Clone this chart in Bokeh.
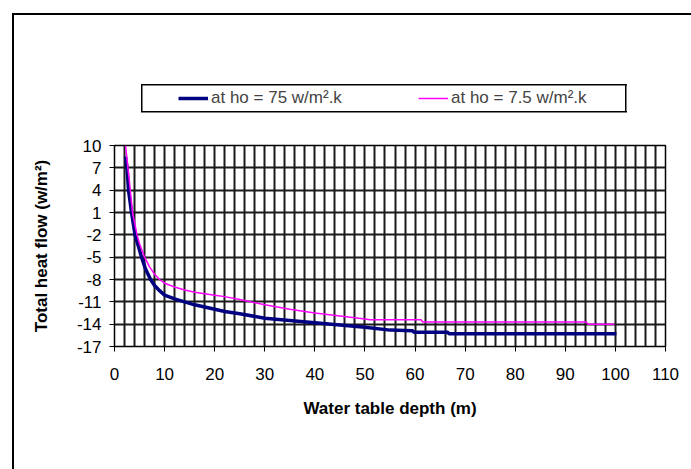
from bokeh.plotting import figure
from bokeh.layouts import column
from bokeh.models import (Range1d, FixedTicker, Legend, LegendItem, PrintfTickFormatter)
from bokeh.embed import file_html
from bokeh.resources import INLINE

# Data
depth_ho75 = [2.2, 2.5, 2.8, 3.4, 4.1, 5.4, 6.2, 7.2, 8, 9, 10, 12, 14, 16, 18, 20, 22, 25,
              30, 35, 40, 45, 50, 55, 59.5, 59.8, 66.5, 66.8, 100.2]
flow_ho75 = [8.5, 7, 4, 1, -2, -5, -6.6, -8, -8.8, -9.5, -10.1, -10.6, -11.0, -11.4, -11.7,
             -12.0, -12.3, -12.6, -13.2, -13.5, -13.8, -14.1, -14.4, -14.8, -14.9, -15.1,
             -15.1, -15.3, -15.3]

depth_ho7_5 = [2.2, 3, 3.6, 4.5, 5, 6, 7, 8, 9, 10, 12, 14, 16, 18, 20, 22, 25, 30, 35, 40,
               45, 50, 51, 61.2, 61.5, 94.2, 94.5, 99.8]
flow_ho7_5 = [10, 5, 1, -2, -3.2, -5, -6.3, -7.3, -8.0, -8.5, -9.0, -9.4, -9.7, -9.9, -10.1,
              -10.3, -10.7, -11.4, -12.0, -12.5, -12.9, -13.3, -13.4, -13.4, -13.7, -13.7,
              -14.0, -14.0]

x_ticks = [0, 10, 20, 30, 40, 50, 60, 70, 80, 90, 100, 110]
y_ticks = [-17, -14, -11, -8, -5, -2, 1, 4, 7, 10]
x_grid = list(range(0, 112, 2))

label_75 = "at ho = 75 w/m\u00b2.k"
label_7_5 = "at ho = 7.5 w/m\u00b2.k"

FONT = "Liberation Sans"
NAVY = "#000080"
PINK = "#FF00FF"

W = 691
TOP_H = 130
MAIN_H = 339

# ---- main chart ----
p = figure(width=W, height=MAIN_H, output_backend="svg", toolbar_location=None,
           x_range=Range1d(0, 110), y_range=Range1d(-17, 10),
           min_border_left=114, min_border_right=26, min_border_top=15,
           min_border_bottom=123)

p.background_fill_color = "white"
p.border_fill_color = None
p.outline_line_color = "black"
p.outline_line_width = 1.5

p.xaxis.ticker = FixedTicker(ticks=x_ticks)
p.yaxis.ticker = FixedTicker(ticks=y_ticks)
p.xaxis.formatter = PrintfTickFormatter(format="%d")
p.yaxis.formatter = PrintfTickFormatter(format="%d")
p.xgrid.ticker = FixedTicker(ticks=x_grid)
p.ygrid.ticker = FixedTicker(ticks=y_ticks)
for g in (p.xgrid, p.ygrid):
    g.grid_line_color = "#1a1a1a"
    g.grid_line_width = 2

for ax in (p.xaxis, p.yaxis):
    ax.axis_line_color = "black"
    ax.major_tick_line_color = "black"
    ax.major_tick_in = 0
    ax.major_tick_out = 5
    ax.minor_tick_line_color = None
    ax.major_label_text_font = FONT
    ax.major_label_text_font_size = "17px"
    ax.major_label_text_color = "black"
    ax.axis_label_text_font = FONT
    ax.axis_label_text_font_size = "17px"
    ax.axis_label_text_font_style = "bold"
    ax.axis_label_text_color = "black"

p.xaxis.axis_label = "Water table depth (m)"
p.yaxis.axis_label = "Total heat flow (w/m\u00b2)"
p.xaxis.major_label_standoff = 16
p.xaxis.axis_label_standoff = 16
p.yaxis.major_label_standoff = 8
p.yaxis.axis_label_standoff = 23

p.line(depth_ho75, flow_ho75, line_color=NAVY, line_width=3.5)
p.line(depth_ho7_5, flow_ho7_5, line_color=PINK, line_width=1.5)

# ---- legend strip above the chart (its frame is aligned with the chart's frame) ----
lg = figure(width=W, height=TOP_H, output_backend="svg", toolbar_location=None,
            x_range=Range1d(0, 110), y_range=Range1d(-17, 10),
            x_axis_location=None, y_axis_location=None, min_border=0)
lg.background_fill_color = None
lg.border_fill_color = None
lg.outline_line_color = None
lg.xgrid.visible = False
lg.ygrid.visible = False
k75 = lg.line(depth_ho75, flow_ho75, line_color=NAVY, line_width=3.5, visible=False)
k7_5 = lg.line(depth_ho7_5, flow_ho7_5, line_color=PINK, line_width=1.5, visible=False)

legend = Legend(items=[LegendItem(label=label_75, renderers=[k75]),
                       LegendItem(label=label_7_5, renderers=[k7_5])],
                orientation="horizontal", location=(60, 18), margin=0,
                padding=4, spacing=57, glyph_width=30, glyph_height=20,
                label_standoff=3, label_width=150,
                label_text_font=FONT, label_text_font_size="17px",
                border_line_alpha=0, background_fill_alpha=0)
lg.add_layout(legend, "center")

# chart border (left/top edges) and the legend's frame, drawn as CSS background lines
blk = "linear-gradient(#000,#000)"
page_styles = {
    "background-color": "white",
    "background-image": ", ".join([blk] * 6),
    "background-position": "12px 13px, 12px 13px, 141px 84px, 141px 111px, 141px 84px, 625px 84px",
    "background-size": "2px 100%, 100% 2px, 486px 1.5px, 486px 1.5px, 1.5px 28px, 1.5px 28px",
    "background-repeat": "no-repeat",
}

layout = column(lg, p, spacing=0, styles=page_styles)

open("out.html", "w").write(file_html(layout, INLINE))
